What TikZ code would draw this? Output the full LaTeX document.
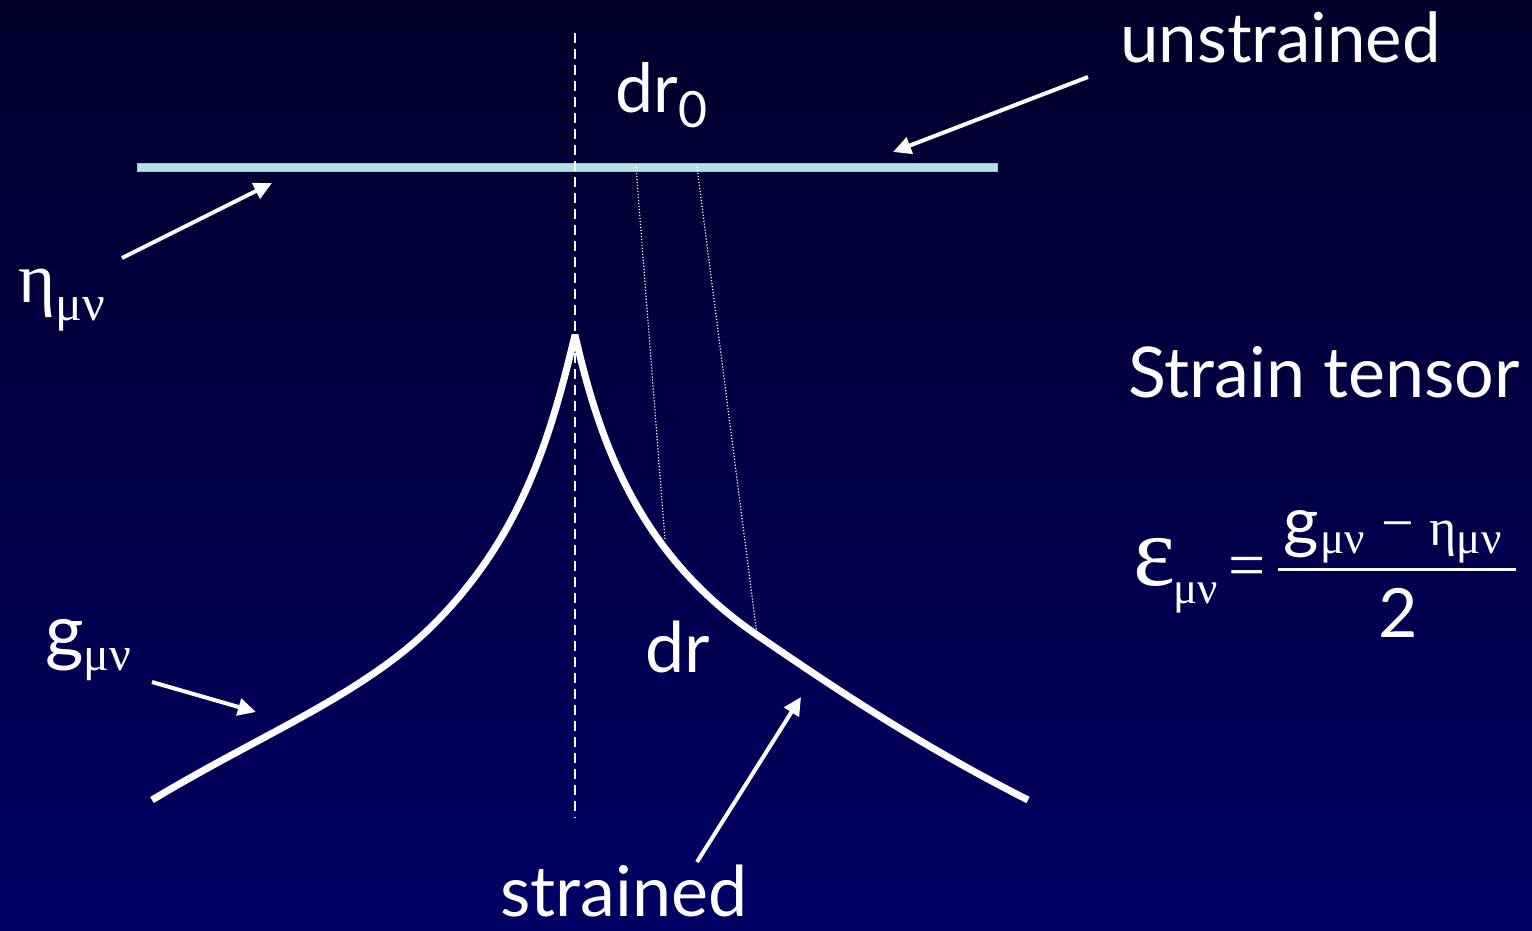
\documentclass[tikz,border=0pt]{standalone}
\usepackage{fontspec}
\setmainfont{Lato}
\newfontfamily\grk{Liberation Serif}
\usetikzlibrary{arrows.meta}

\definecolor{barcol}{RGB}{184,224,228}
\definecolor{bgtop}{RGB}{0,0,42}
\definecolor{bgbot}{RGB}{0,0,100}

\newcommand{\fs}[1]{\fontsize{#1}{#1}\selectfont}
\newcommand{\idx}[2]{\raisebox{-#1pt}{\fs{#2}\grk μν}}

\begin{document}
\begin{tikzpicture}[x=1pt, y=-1pt,
    lbl/.style={text=white, inner sep=0pt, anchor=base west},
    pointer/.style={white, line width=4pt, -{Triangle[length=18pt,width=17pt]}}]
    \useasboundingbox (0,0) rectangle (1532,930);
    \fill[top color=bgtop, bottom color=bgbot] (0,0) rectangle (1532,930);

    % unstrained line and axis
    \filldraw[fill=barcol, draw=barcol!70!gray, line width=0.8pt] (137,163.5) rectangle (997,171);
    \draw[white, line width=2pt, dash pattern=on 10pt off 6pt] (575,33) -- (575,818);

    % strained curve
    \draw[white, line width=7pt, line join=bevel]
      (152,800) .. controls (260,735) and (360,696) .. (430,628)
      .. controls (520,540) and (550,440) .. (575,335)
      .. controls (600,445) and (640,555) .. (757,635)
      .. controls (840,692) and (920,745) .. (1028,800);

    % labels
    \node[lbl, font=\fs{69}] (unstr) at (1120,62) {unstrained};
    \node[lbl, font=\fs{68}] (dr0) at (615,112) {dr\raisebox{-15pt}{\fs{50}0}};
    \node[lbl, font=\fs{70}] (strain) at (1128,397) {Strain tensor};
    \node[lbl, font=\fs{70}] (dr) at (645,672) {dr};
    \node[lbl, font=\fs{70}] (str) at (500,916) {strained};
    \node[lbl, font=\grk\fs{71}] (eta) at (18,302) {η\idx{18}{50}};
    \node[lbl, font=\fs{74}] (g) at (45,657) {g\idx{13}{48}};

    % formula
    \node[lbl, font=\grk\fs{100}] (eps) at (1133,585) {ε\hspace{-2pt}\idx{18}{45}};
    \node[lbl, font=\grk\fs{66}] (eq) at (1228,587) {=};
    \node[lbl, font=\fs{68}] (num) at (1283,545) {g\hspace{2pt}\idx{8}{45}\hspace{16pt}\raisebox{3pt}{\grk\fs{58}−}\hspace{16pt}{\grk\fs{52}η}\idx{8}{45}};
    \draw[white, line width=3pt] (1278,569) -- (1516,569);
    \node[lbl, font=\fs{68}] (den) at (1378,637) {2};

    % dr and dr0 guides
    \coordinate (d1a) at (636,167);
    \coordinate (d1b) at (665,540);
    \coordinate (d2a) at (697,167);
    \coordinate (d2b) at (757,635);
    \draw[white, line width=1.2pt, dash pattern=on 1.2pt off 1.8pt] (d1a) -- (d1b);
    \draw[white, line width=1.2pt, dash pattern=on 1.2pt off 1.8pt] (d2a) -- (d2b);

    % pointers
    \coordinate (etaTail) at (122,258);
    \coordinate (etaHead) at (272,183);
    \coordinate (unTail) at (1088,77);
    \coordinate (unHead) at (893,152);
    \coordinate (gTail) at (152,682);
    \coordinate (gHead) at (256,712);
    \coordinate (stTail) at (697,862);
    \coordinate (stHead) at (801,697);
    \draw[pointer] (etaTail) -- (etaHead);
    \draw[pointer] (unTail) -- (unHead);
    \draw[pointer] (gTail) -- (gHead);
    \draw[pointer] (stTail) -- (stHead);
\end{tikzpicture}
\end{document}
